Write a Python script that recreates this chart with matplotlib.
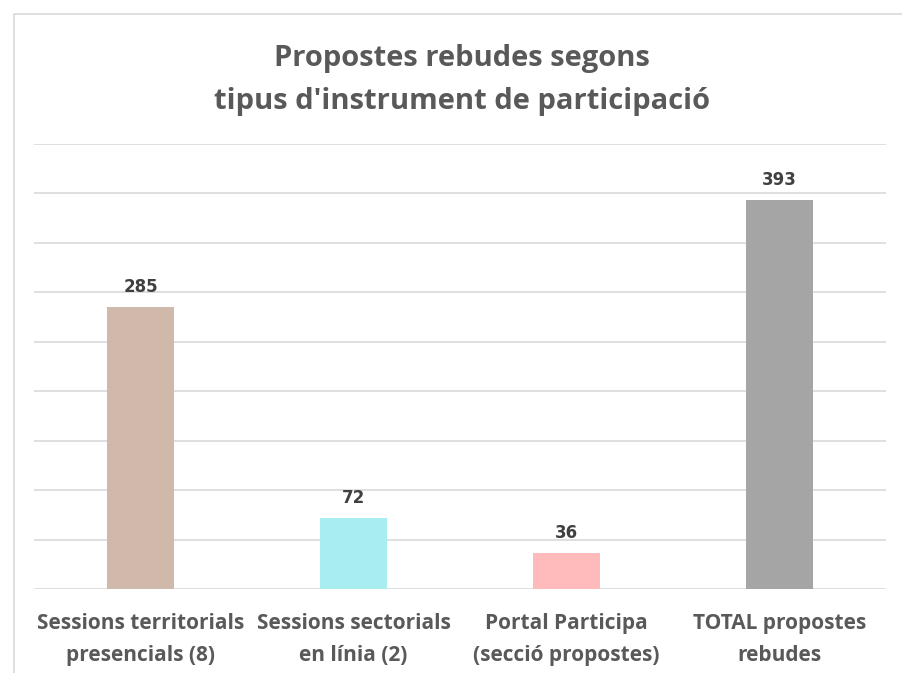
import matplotlib

matplotlib.use("Agg")
import matplotlib.pyplot as plt
from matplotlib.patches import Rectangle

categories = [
    "Sessions territorials\npresencials (8)",
    "Sessions sectorials\nen línia (2)",
    "Portal Participa\n(secció propostes)",
    "TOTAL propostes\nrebudes",
]
values = [285, 72, 36, 393]
colors = ["#D0B8AA", "#A8EEF0", "#FFBBBB", "#A5A5A5"]
title = "Propostes rebudes segons\ntipus d'instrument de participació"

W, H = 902, 673
plt.rcParams["font.family"] = ["Open Sans", "DejaVu Sans"]

fig = plt.figure(figsize=(W / 100, H / 100), dpi=100)

# chart frame
fig.patches.append(Rectangle((14 / W, -0.1), 1.2, 1 - 14 / H + 0.1,
                             transform=fig.transFigure, fill=False,
                             edgecolor="#D9D9D9", linewidth=1.2))

ax = fig.add_axes([34 / W, 1 - 589 / H, (886 - 34) / W, (589 - 144) / H])
x = range(len(values))
ax.bar(x, values, width=0.31, color=colors, zorder=2)
ax.set_xlim(-0.5, len(values) - 0.5)
ax.set_ylim(0, 450)
ax.set_yticks(range(0, 451, 50))
ax.yaxis.grid(True, color="#D9D9D9", linewidth=1.2, zorder=0)
ax.tick_params(left=False, labelleft=False, bottom=False, labelbottom=False)
for s in ax.spines.values():
    s.set_visible(False)

for i, v in enumerate(values):
    ax.annotate(str(v), (i, v), xytext=(0, 8), textcoords="offset points",
                ha="center", va="bottom", fontsize=12, fontweight="bold",
                color="#404040", family=["DejaVu Sans"])
    ax.annotate(categories[i], (i, 0), xytext=(0, -17), textcoords="offset points",
                ha="center", va="top", fontsize=15, fontweight="bold",
                color="#595959", linespacing=1.7)

fig.text(462 / W, 1 - 80 / H, title, ha="center", va="center", fontsize=21,
         fontweight="bold", color="#595959", linespacing=1.65)

fig.savefig("out.png", dpi=100)
